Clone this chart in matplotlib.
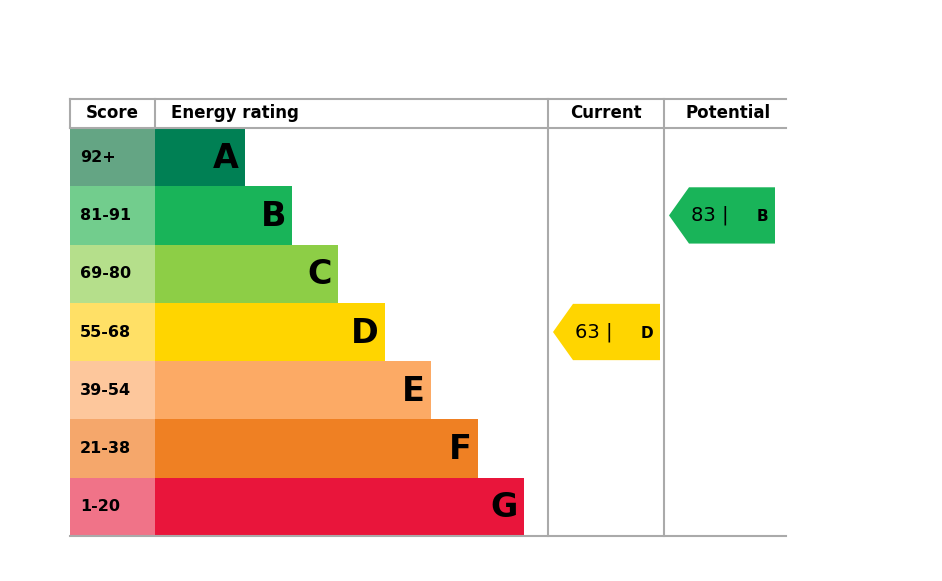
import matplotlib
matplotlib.use("Agg")
import matplotlib.pyplot as plt
from matplotlib.patches import Rectangle, Polygon

letters = ["A", "B", "C", "D", "E", "F", "G"]
scores = ["92+", "81-91", "69-80", "55-68", "39-54", "21-38", "1-20"]
bar_ends = [245, 292, 338, 385, 431, 478, 524]
bar_colors = ["#008054", "#19b459", "#8dce46", "#ffd500", "#fcaa65", "#ef8023", "#e9153b"]
score_colors = ["#64a584", "#72cd8d", "#b5df8b", "#ffe066", "#fdc79c", "#f5a76b", "#f07388"]
current_value, current_letter = 63, "D"
potential_value, potential_letter = 83, "B"

fig = plt.figure(figsize=(9.42, 5.81), dpi=100)
ax = fig.add_axes([0, 0, 1, 1])
ax.set_xlim(0, 942); ax.set_ylim(581, 0); ax.axis("off")

top, head, bottom = 99, 128, 536
rh = (bottom - head) / len(letters)
gray = "#aaaaaa"
ax.plot([70, 786], [top, top], color=gray, lw=1.5)
ax.plot([70, 786], [head, head], color=gray, lw=1.5)
ax.plot([70, 786], [bottom, bottom], color=gray, lw=1.5)
for x in (70, 155):
    ax.plot([x, x], [top, head], color=gray, lw=1.5)
for x in (548, 664):
    ax.plot([x, x], [top, bottom], color=gray, lw=1.5)
hy = (top + head) / 2
ax.text(112, hy, "Score", ha="center", va="center", fontsize=12, fontweight="bold")
ax.text(171, hy, "Energy rating", ha="left", va="center", fontsize=12, fontweight="bold")
ax.text(606, hy, "Current", ha="center", va="center", fontsize=12, fontweight="bold")
ax.text(728, hy, "Potential", ha="center", va="center", fontsize=12, fontweight="bold")

for i, (l, s, e, bc, sc) in enumerate(zip(letters, scores, bar_ends, bar_colors, score_colors)):
    y0 = head + i * rh
    ax.add_patch(Rectangle((70, y0), 85, rh, color=sc, lw=0))
    ax.add_patch(Rectangle((155, y0), e - 155, rh, color=bc, lw=0))
    ax.text(80, y0 + rh / 2, s, ha="left", va="center", fontsize=11.5, fontweight="bold")
    ax.text(e - 6, y0 + rh / 2 + 1, l, ha="right", va="center", fontsize=24, fontweight="bold")

def arrow(value, letter, x0, x1):
    i = letters.index(letter)
    y0 = head + i * rh + 1; y1 = y0 + rh - 2; ym = (y0 + y1) / 2
    ax.add_patch(Polygon([(x0, ym), (x0 + 20, y0), (x1, y0), (x1, y1), (x0 + 20, y1)],
                         closed=True, color=bar_colors[i], lw=0))
    ax.text(x0 + 22, ym, f"{value} |", ha="left", va="center", fontsize=14)
    ax.text(x1 - 13, ym + 1, letter, ha="center", va="center", fontsize=11, fontweight="bold")

arrow(current_value, current_letter, 553, 660)
arrow(potential_value, potential_letter, 669, 775)

fig.savefig("out.png", dpi=100)
